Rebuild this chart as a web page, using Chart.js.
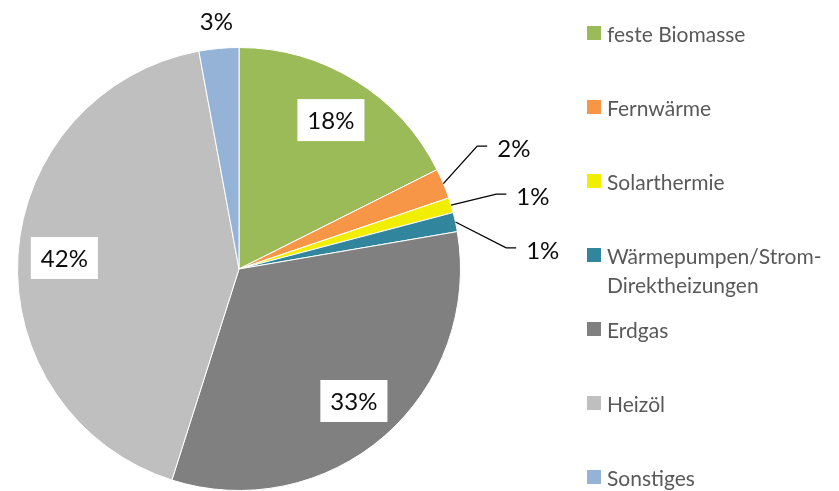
<!DOCTYPE html>
<html>
<head>
<meta charset="utf-8">
<script src="https://cdn.jsdelivr.net/npm/chart.js@4.4.0/dist/chart.umd.min.js"></script>
<style>
  html, body { margin: 0; padding: 0; background: #fff; }
  #wrap { position: relative; width: 839px; height: 491px; }
  #chartBox { position: absolute; left: 0; top: 0; width: 839px; height: 491px; }
  #legend { position: absolute; left: 587px; top: 0; margin: 0; padding: 0; list-style: none;
            font-family: Lato, "Liberation Sans", sans-serif; font-size: 21px; color: #595959; }
  #legend li { position: absolute; left: 0; display: flex; align-items: flex-start;
               line-height: 29px; white-space: nowrap; }
  #legend .sw { width: 14px; height: 14px; margin-top: 7.5px; margin-right: 6px; flex: none; }
</style>
</head>
<body>
<div id="wrap">
  <div id="chartBox"><canvas id="pie"></canvas></div>
  <ul id="legend"></ul>
</div>
<script>
// Anteile der Energieträger (in %)
var categories = ["feste Biomasse", "Fernwärme", "Solarthermie", "Wärmepumpen/Strom-Direktheizungen",
                  "Erdgas", "Heizöl", "Sonstiges"];
var shares = [17.6, 2.2, 1.1, 1.4, 32.6, 42.2, 2.9];
var colors = ["#9BBB59", "#F79646", "#F2EE00", "#31859C", "#808080", "#BFBFBF", "#95B3D7"];

// Platzierung der Beschriftungen: innen, mit Führungslinie oder aussen
var labelMode = ["inside", "leader", "leader", "leader", "inside", "inside", "outside"];
var leaderShift = [0, -4.6, 0.5, 7.7, 0, 0, 0];

var labelFont = "24px Lato, 'Liberation Sans', sans-serif";

// Plugin für die Prozent-Beschriftungen
var pctLabels = {
  id: "pctLabels",
  afterDatasetsDraw: function(chart) {
    var ctx = chart.ctx;
    var meta = chart.getDatasetMeta(0);
    ctx.save();
    ctx.font = labelFont;
    ctx.textBaseline = "middle";
    meta.data.forEach(function(arc, i) {
      var p = arc.getProps(["x", "y", "startAngle", "endAngle", "outerRadius"], true);
      var mid = (p.startAngle + p.endAngle) / 2;
      var R = p.outerRadius;
      var txt = Math.round(shares[i]) + "%";

      if (labelMode[i] === "inside") {
        var cx = p.x + Math.cos(mid) * R * 0.79;
        var cy = p.y + Math.sin(mid) * R * 0.79;
        var w = ctx.measureText(txt).width + 20;
        var h = 42;
        ctx.fillStyle = "#fff";
        ctx.fillRect(cx - w / 2, cy - h / 2, w, h);
        ctx.fillStyle = "#0d0d0d";
        ctx.textAlign = "center";
        ctx.fillText(txt, cx, cy + 1);
      } else if (labelMode[i] === "outside") {
        var ox = p.x + Math.cos(mid) * R * 1.12;
        var oy = p.y + Math.sin(mid) * R * 1.12;
        ctx.fillStyle = "#0d0d0d";
        ctx.textAlign = "center";
        ctx.fillText(txt, ox, oy);
      } else {
        var a2 = mid + leaderShift[i] * Math.PI / 180;
        var sx = p.x + Math.cos(mid) * R;
        var sy = p.y + Math.sin(mid) * R;
        var ex = p.x + Math.cos(a2) * R * 1.21;
        var ey = p.y + Math.sin(a2) * R * 1.21;
        ctx.strokeStyle = "#000";
        ctx.lineWidth = 1.3;
        ctx.beginPath();
        ctx.moveTo(sx, sy);
        ctx.lineTo(ex, ey);
        ctx.lineTo(ex + 10, ey);
        ctx.stroke();
        ctx.fillStyle = "#0d0d0d";
        ctx.textAlign = "left";
        ctx.fillText(txt, ex + 20, ey + 3);
      }
    });
    ctx.restore();
  }
};

new Chart(document.getElementById("pie"), {
  type: "pie",
  data: {
    labels: categories,
    datasets: [{
      data: shares,
      backgroundColor: colors,
      borderColor: "#fff",
      borderWidth: 1
    }]
  },
  options: {
    responsive: true,
    maintainAspectRatio: false,
    animation: false,
    layout: { padding: { left: 17, top: 47, right: 378, bottom: 0 } },
    plugins: {
      legend: { display: false },
      tooltip: { enabled: false }
    }
  },
  plugins: [pctLabels]
});

// HTML-Legende
var legend = document.getElementById("legend");
categories.forEach(function(name, i) {
  var li = document.createElement("li");
  li.style.top = (33 - 14.5 + i * 74) + "px";
  var sw = document.createElement("span");
  sw.className = "sw";
  sw.style.background = colors[i];
  var tx = document.createElement("span");
  tx.innerHTML = name.replace(/-(?=\S)/, "-<br>");
  li.appendChild(sw);
  li.appendChild(tx);
  legend.appendChild(li);
});
</script>
</body>
</html>
